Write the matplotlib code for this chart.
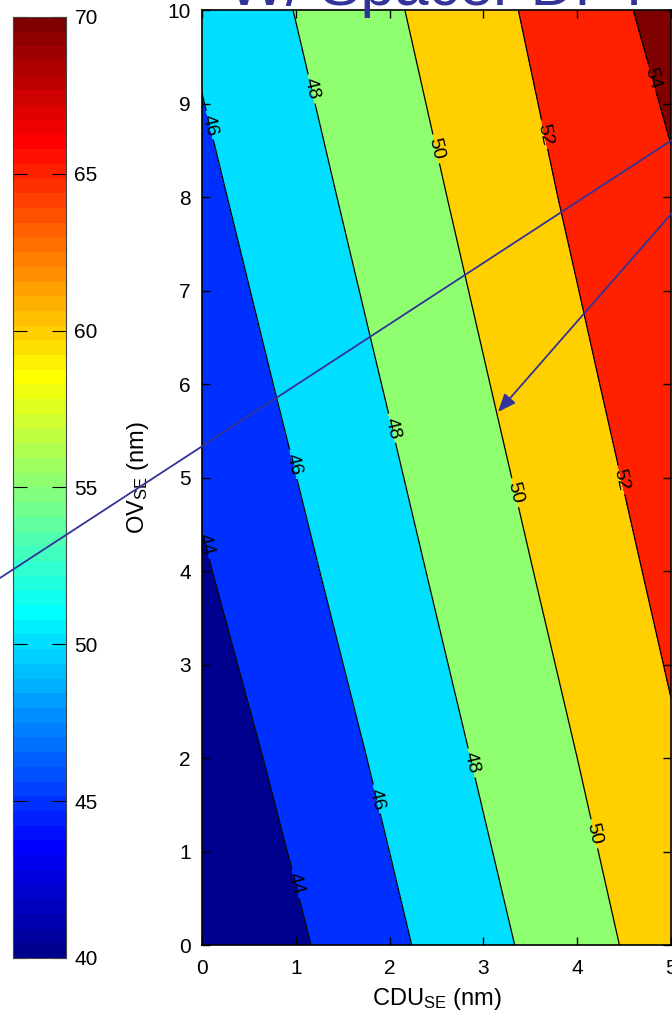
import numpy as np
import matplotlib.pyplot as plt
from matplotlib.colors import ListedColormap

plt.rcParams['font.family'] = ['Liberation Sans', 'DejaVu Sans']
plt.rcParams['mathtext.fontset'] = 'custom'
plt.rcParams['mathtext.rm'] = 'Liberation Sans'
plt.rcParams['mathtext.it'] = 'Liberation Sans'

# grid of values (CDU_SE x OV_SE)
cdu = np.array([0, 1, 2, 3, 4, 5])
ov = np.array([0, 2, 4, 6, 8, 10])
z = np.array([
    [41.83, 43.70, 45.57, 47.40, 49.20, 50.98],   # OV = 0
    [42.83, 44.63, 46.44, 48.25, 50.00, 51.75],   # OV = 2
    [43.81, 45.55, 47.32, 49.08, 50.81, 52.53],   # OV = 4
    [44.68, 46.42, 48.15, 49.88, 51.59, 53.30],   # OV = 6
    [45.54, 47.25, 48.96, 50.66, 52.35, 53.75],   # OV = 8
    [46.37, 48.05, 49.73, 51.39, 53.03, 54.65],   # OV = 10
])
fill_levels = [40, 44, 46, 48, 50, 52, 54, 56]
line_levels = [44, 46, 48, 50, 52, 54]
cbar_ticks = [40, 45, 50, 55, 60, 65, 70]

# label positions along the contours
label_pos = [(0.94, 0.64), (0.03, 4.28),
             (0.94, 5.13), (1.82, 1.55), (0.09, 8.77),
             (1.10, 9.14), (1.95, 5.51), (2.80, 1.93),
             (2.43, 8.50), (3.30, 4.83), (4.14, 1.18),
             (3.60, 8.66), (4.46, 4.97),
             (4.72, 9.25)]


def matlab_jet(n=64):
    # MATLAB style jet colormap
    t = (np.arange(n) + 1) / n * 4
    r = np.clip(np.minimum(t - 1.5, -t + 4.5), 0, 1)
    g = np.clip(np.minimum(t - 0.5, -t + 3.5), 0, 1)
    b = np.clip(np.minimum(t + 0.5, -t + 2.5), 0, 1)
    return np.column_stack([r, g, b])


jet64 = matlab_jet(64)
fill_colors = [jet64[k] for k in [0, 10, 21, 32, 42, 53, 63]]
line_col = '#333399'

fig = plt.figure(figsize=(6.72, 10.24), dpi=100)

# main contour axes
ax = fig.add_axes([0.3006, 0.0771, 0.698, 0.9131])
X, Y = np.meshgrid(cdu, ov)
ax.contourf(X, Y, z, levels=fill_levels, colors=fill_colors)
cs = ax.contour(X, Y, z, levels=line_levels, colors='k', linewidths=0.9)
ax.clabel(cs, inline=True, inline_spacing=4, fontsize=14, fmt='%d',
          manual=label_pos)
ax.set_xlim(0, 5)
ax.set_ylim(0, 10)
ax.set_xticks(range(0, 6))
ax.set_yticks(range(0, 11))
ax.tick_params(direction='in', top=True, right=True, length=6, labelsize=15,
               width=1)
ax.tick_params(axis='x', pad=10)
ax.tick_params(axis='y', pad=8)
ax.set_xlabel(r'CDU$_{\mathrm{SE}}$ (nm)', fontsize=17, labelpad=6)
ax.set_ylabel(r'OV$_{\mathrm{SE}}$ (nm)', fontsize=17, labelpad=12)
for s in ax.spines.values():
    s.set_linewidth(1.2)

# colorbar axes on the left
cax = fig.add_axes([0.0194, 0.0645, 0.079, 0.919])
cvals = np.linspace(40, 70, 65)
cax.pcolormesh([0, 1], cvals, ((cvals[:-1] + cvals[1:]) / 2)[:, None],
               cmap=ListedColormap(jet64), vmin=40, vmax=70)
cax.set_xlim(0, 1)
cax.set_ylim(40, 70)
cax.set_xticks([])
cax.set_yticks(cbar_ticks)
cax.yaxis.tick_right()
cax.tick_params(axis='y', direction='in', left=True, right=True, length=10,
                labelsize=15, pad=6)
for s in cax.spines.values():
    s.set_color('#444444')

# title, mostly cut at the top edge
fig.text(0.655, 1 - 5 / 1024, 'W/ Spacer DPT', color=line_col, fontsize=44,
         ha='center', va='baseline')

# annotation line and arrow
fig.add_artist(plt.Line2D([0, 1], [1 - 578 / 1024, 1 - 140 / 1024],
                          transform=fig.transFigure, color=line_col, lw=1.3))
ax.annotate('', xy=(498 / 672, 1 - 412 / 1024), xycoords='figure fraction',
            xytext=(672 / 672, 1 - 213 / 1024), textcoords='figure fraction',
            arrowprops=dict(arrowstyle='-|>,head_length=1.1,head_width=0.45',
                            color=line_col, lw=1.3, shrinkA=0, shrinkB=0))

fig.savefig('out.png', dpi=100)
